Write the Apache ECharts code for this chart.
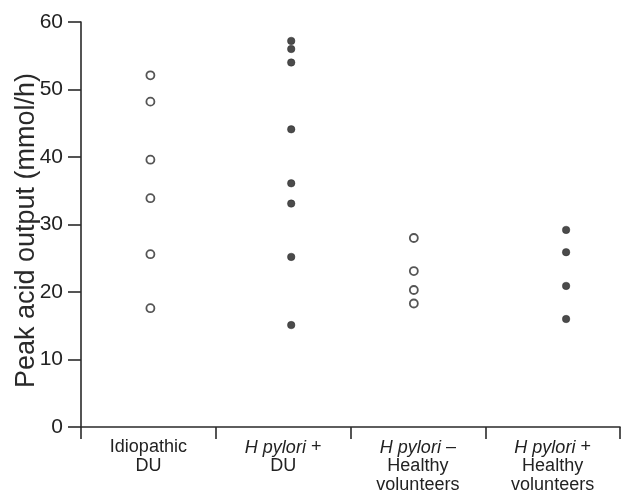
<!DOCTYPE html>
<html><head><meta charset="utf-8">
<script src="https://cdn.jsdelivr.net/npm/echarts@6/dist/echarts.min.js"></script>
<style>html,body{margin:0;padding:0;background:#fff}#c{width:622px;height:490px}</style>
</head><body><div id="c"></div>
<script>
var categories = ['Idiopathic DU', 'H pylori + DU', 'H pylori - Healthy volunteers', 'H pylori + Healthy volunteers'];
var groupX = [0.515, 1.56, 2.47, 3.6];
var idiopathicDU = [52.1, 48.2, 39.6, 33.9, 25.6, 17.6];
var hpPosDU = [57.2, 56.0, 54.0, 44.1, 36.1, 33.1, 25.2, 15.1];
var hpNegHealthy = [28.0, 23.1, 20.3, 18.3];
var hpPosHealthy = [29.2, 25.9, 20.9, 16.0];
var yTicks = [0, 10, 20, 30, 40, 50, 60];

var catLabels = [
  'Idiopathic\nDU',
  '{i|H pylori} +\nDU',
  '{i|H pylori} \u2013\nHealthy\nvolunteers',
  '{i|H pylori} +\nHealthy\nvolunteers'
];

function pts(idx, arr) { return arr.map(function (v) { return [groupX[idx], v]; }); }

var FONT = 'Liberation Sans, Arial, sans-serif';
var open = { symbol: 'circle', symbolSize: 8, itemStyle: { color: '#fff', borderColor: '#2a2a2a', borderWidth: 1.8 } };
var filled = { symbol: 'circle', symbolSize: 7.5, itemStyle: { color: '#1e1e1e', borderColor: '#1e1e1e', borderWidth: 0.5 } };

var chart = echarts.init(document.getElementById('c'), null, { renderer: 'canvas' });
chart.setOption({
  animation: false,
  backgroundColor: '#fff',
  grid: { left: 81, right: 2, top: 22, bottom: 63, containLabel: false, outerBoundsMode: 'none' },
  xAxis: [{
    type: 'category',
    data: categories,
    boundaryGap: true,
    axisLine: { lineStyle: { color: '#2a2a2a', width: 1.6 } },
    axisTick: { show: true, length: 12, inside: false, lineStyle: { color: '#2a2a2a', width: 1.6 } },
    axisLabel: {
      interval: 0, margin: 11, color: '#222', fontFamily: FONT, fontSize: 18, lineHeight: 19, align: 'center',
      formatter: function (v, i) { return catLabels[i]; },
      rich: { i: { fontStyle: 'italic', fontSize: 18, lineHeight: 19, color: '#222', fontFamily: FONT } }
    }
  }, {
    type: 'value', min: 0, max: 4, show: false
  }],
  yAxis: {
    type: 'value', min: 0, max: 60, interval: 10,
    name: 'Peak acid output (mmol/h)',
    nameLocation: 'middle', nameGap: 41, nameMoveOverlap: false,
    nameTextStyle: { color: '#2a2a2a', fontSize: 27, fontFamily: FONT, padding: [0, 12, 0, 0] },
    axisLine: { show: true, lineStyle: { color: '#2a2a2a', width: 1.6 } },
    axisTick: { show: true, length: 13, lineStyle: { color: '#2a2a2a', width: 1.6 } },
    splitLine: { show: false },
    axisLabel: {
      margin: 18, color: '#222', fontSize: 21, fontFamily: FONT,
      formatter: function (v) { return yTicks.indexOf(v) >= 0 ? String(v) : ''; }
    }
  },
  series: [
    Object.assign({ type: 'scatter', xAxisIndex: 1, data: pts(0, idiopathicDU) }, open),
    Object.assign({ type: 'scatter', xAxisIndex: 1, data: pts(1, hpPosDU) }, filled),
    Object.assign({ type: 'scatter', xAxisIndex: 1, data: pts(2, hpNegHealthy) }, open),
    Object.assign({ type: 'scatter', xAxisIndex: 1, data: pts(3, hpPosHealthy) }, filled)
  ]
});
</script></body></html>
